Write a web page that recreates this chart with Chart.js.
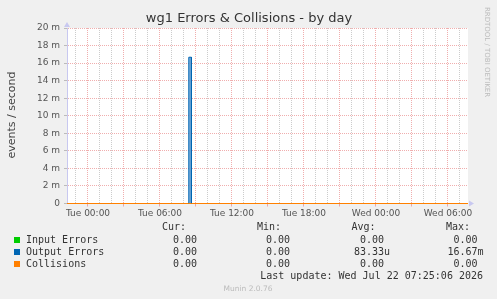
<!DOCTYPE html>
<html>
<head>
<meta charset="utf-8">
<script src="https://cdn.jsdelivr.net/npm/chart.js@4/dist/chart.umd.min.js"></script>
<style>
  html, body { margin: 0; padding: 0; background: #f0f0f0; }
  #wrap { width: 497px; height: 299px; position: relative; }
</style>
</head>
<body>
<div id="wrap"><canvas id="graph" width="497" height="299"></canvas></div>
<script>
// hours relative to Tue 00:00
const sampleHours = [-1.75, 8.40, 8.40, 8.62, 8.62, 31.67];
const inputErrors = [0, 0, 0, 0, 0, 0];
const outputErrors = [0, 0, 0.01667, 0.01667, 0, 0];
const collisions = [0, 0, 0, 0, 0, 0];

const xLabelHours = [0, 6, 12, 18, 24, 30];
const xLabels = ['Tue 00:00', 'Tue 06:00', 'Tue 12:00', 'Tue 18:00', 'Wed 00:00', 'Wed 06:00'];

const seriesNames = ['Input Errors', 'Output Errors', 'Collisions'];
const seriesColors = ['#00cc00', '#0066b3', '#ff8000'];
const curValues = ['0.00 ', '0.00 ', '0.00 '];
const minValues = ['0.00 ', '0.00 ', '0.00 '];
const avgValues = ['0.00 ', '83.33u', '0.00 '];
const maxValues = ['0.00 ', '16.67m', '0.00 '];
const lastUpdate = 'Last update: Wed Jul 22 07:25:06 2026';

const MAJOR = 'rgba(230, 120, 120, 0.6)';
const MINOR = 'rgba(170, 170, 170, 0.6)';
const SANS = "'DejaVu Sans', sans-serif";
const MONO = "'DejaVu Sans Mono', monospace";

function points(values) {
  return sampleHours.map((h, i) => ({ x: h, y: values[i] }));
}

const extras = {
  id: 'extras',
  beforeDraw(chart) {
    const { ctx, chartArea: a } = chart;
    ctx.save();
    ctx.fillStyle = '#ffffff';
    ctx.fillRect(a.left, a.top, a.right - a.left, a.bottom - a.top);
    ctx.restore();
  },
  afterDraw(chart) {
    const { ctx, chartArea: a } = chart;
    ctx.save();
    // axis arrows
    ctx.fillStyle = '#c8c8f0';
    ctx.beginPath();
    ctx.moveTo(a.left - 3, a.top - 1);
    ctx.lineTo(a.left + 3, a.top - 1);
    ctx.lineTo(a.left, a.top - 6);
    ctx.fill();
    ctx.beginPath();
    ctx.moveTo(a.right + 1, a.bottom - 3);
    ctx.lineTo(a.right + 1, a.bottom + 3);
    ctx.lineTo(a.right + 6, a.bottom);
    ctx.fill();

    // title
    ctx.fillStyle = '#333';
    ctx.textBaseline = 'middle';
    ctx.textAlign = 'center';
    ctx.font = '13px ' + SANS;
    ctx.fillText('wg1 Errors & Collisions - by day', 249, 19);

    // y title
    ctx.save();
    ctx.translate(12, 115);
    ctx.rotate(-Math.PI / 2);
    ctx.font = '11px ' + SANS;
    ctx.fillStyle = '#444';
    ctx.fillText('events / second', 0, 0);
    ctx.restore();

    // rrdtool watermark
    ctx.save();
    ctx.translate(487, 52);
    ctx.rotate(Math.PI / 2);
    ctx.font = '7px ' + SANS;
    ctx.fillStyle = '#bbb';
    ctx.fillText('RRDTOOL / TOBI OETIKER', 0, 0);
    ctx.restore();

    // legend
    ctx.font = '10px ' + MONO;
    ctx.fillStyle = '#333';
    ctx.textAlign = 'right';
    ctx.fillText('Cur:', 186, 227);
    ctx.fillText('Min:', 281, 227);
    ctx.fillText('Avg:', 375.5, 227);
    ctx.fillText('Max:', 470, 227);
    seriesNames.forEach((name, i) => {
      const y = 240 + i * 12;
      ctx.fillStyle = seriesColors[i];
      ctx.fillRect(14, y - 3, 6, 6);
      ctx.fillStyle = '#333';
      ctx.textAlign = 'left';
      ctx.fillText(name, 26, y);
      ctx.textAlign = 'right';
      ctx.fillText(curValues[i], 203, y);
      ctx.fillText(minValues[i], 296, y);
      ctx.fillText(avgValues[i], 390, y);
      ctx.fillText(maxValues[i], 483.5, y);
    });
    ctx.fillText(lastUpdate, 483, 276);

    ctx.textAlign = 'center';
    ctx.font = '7.5px ' + SANS;
    ctx.fillStyle = '#bbb';
    ctx.fillText('Munin 2.0.76', 248, 289);
    ctx.restore();
  }
};

const lineStyle = { pointRadius: 0, borderWidth: 1, tension: 0, clip: 3 };

// lower order is drawn on top: collisions last, like rrdtool
new Chart(document.getElementById('graph'), {
  type: 'line',
  data: {
    datasets: [
      { ...lineStyle, order: 3, label: seriesNames[0], data: points(inputErrors), borderColor: seriesColors[0] },
      { ...lineStyle, order: 2, label: seriesNames[1], data: points(outputErrors), borderColor: seriesColors[1],
        fill: 'origin', backgroundColor: '#7fb0dc' },
      { ...lineStyle, order: 1, label: seriesNames[2], data: points(collisions), borderColor: seriesColors[2] }
    ]
  },
  options: {
    responsive: false,
    animation: false,
    events: [],
    layout: { padding: { left: 0, right: 29, top: 28, bottom: 0 } },
    plugins: { legend: { display: false }, tooltip: { enabled: false }, title: { display: false } },
    scales: {
      x: {
        type: 'linear',
        min: sampleHours[0],
        max: sampleHours[sampleHours.length - 1],
        afterBuildTicks(scale) {
          const t = [];
          for (let h = Math.ceil(scale.min); h <= scale.max; h++) t.push({ value: h });
          scale.ticks = t;
        },
        // half-pixel bottom so the zero lines land on one pixel row
        afterFit(scale) { scale.height = 95.5; },
        border: { display: false, dash: [1, 1] },
        grid: {
          tickLength: 3,
          color: (c) => (c.tick && c.tick.value % 3 === 0 ? MAJOR : MINOR),
          tickColor: (c) => (c.tick && c.tick.value % 3 === 0 ? MAJOR : 'rgba(0,0,0,0)')
        },
        ticks: {
          autoSkip: false,
          maxRotation: 0,
          padding: 2,
          color: '#555',
          font: { family: SANS, size: 9 },
          callback: (v) => {
            const i = xLabelHours.indexOf(v);
            return i >= 0 ? xLabels[i] : '';
          }
        }
      },
      y: {
        min: 0,
        max: 0.02,
        afterBuildTicks(scale) {
          const t = [];
          for (let m = 0; m <= 20; m++) t.push({ value: m / 1000 });
          scale.ticks = t;
        },
        afterFit(scale) { scale.width = 67; },
        border: { display: true, color: '#c8c8f0', width: 1, dash: [1, 1] },
        grid: {
          tickLength: 3,
          color: (c) => (c.tick && Math.round(c.tick.value * 1000) % 2 === 0 ? MAJOR : MINOR),
          tickColor: (c) => (c.tick && Math.round(c.tick.value * 1000) % 2 === 0 ? '#bbb' : 'rgba(0,0,0,0)')
        },
        ticks: {
          padding: 4,
          color: '#555',
          font: { family: SANS, size: 9 },
          callback: (v) => {
            const m = Math.round(v * 1000);
            if (m % 2 !== 0) return '';
            return m === 0 ? '0' : m + ' m';
          }
        }
      }
    }
  },
  plugins: [extras]
});
</script>
</body>
</html>
